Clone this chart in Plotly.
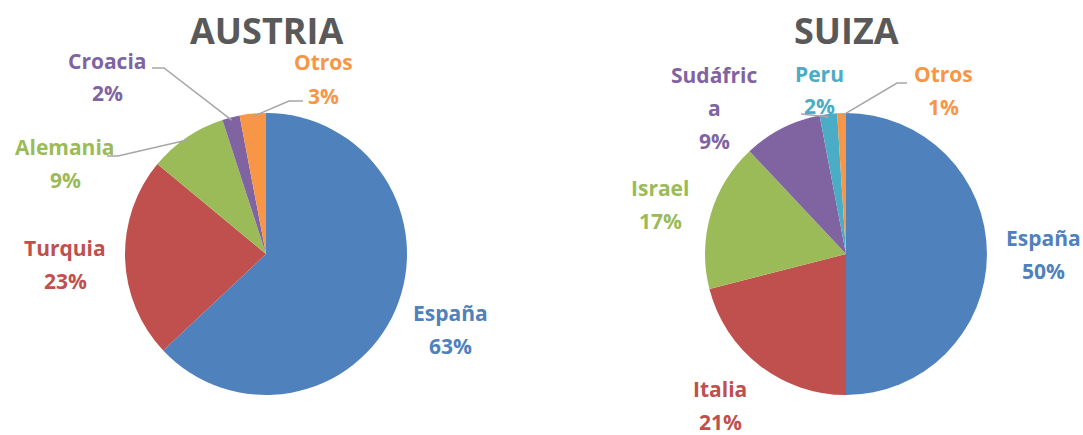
import math
import plotly.graph_objects as go

W, H = 1083, 435

# ---- data ----
austria_labels = ["España", "Turquia", "Alemania", "Croacia", "Otros"]
austria_values = [63, 23, 9, 2, 3]
suiza_labels = ["España", "Italia", "Israel", "Sudáfrica", "Peru", "Otros"]
suiza_values = [50, 21, 17, 9, 2, 1]
austria_colors = ["#4F81BD", "#C0504D", "#9BBB59", "#8064A2", "#F79646"]
suiza_colors = ["#4F81BD", "#C0504D", "#9BBB59", "#8064A2", "#4BACC6", "#F79646"]

# ---- layout constants (pixels) ----
R = 141
A_C = (266, 254)
S_C = (846, 254)
FONT = "Open Sans"
LINE_GAP = 33

def px(x):
    return x / W

def py(y):
    return 1 - y / H

def domain(c):
    return dict(x=[px(c[0] - R), px(c[0] + R)], y=[py(c[1] + R), py(c[1] - R)])

fig = go.Figure()
for name, labels, values, colors, c in [
    ("AUSTRIA", austria_labels, austria_values, austria_colors, A_C),
    ("SUIZA", suiza_labels, suiza_values, suiza_colors, S_C),
]:
    fig.add_trace(go.Pie(
        labels=labels, values=values, sort=False, direction="clockwise", rotation=0,
        marker=dict(colors=colors, line=dict(width=0)),
        textinfo="none", hoverinfo="label+percent", domain=domain(c), showlegend=False,
    ))

annotations = []
shapes = []

def title(text, cx):
    annotations.append(dict(text=f"<b>{text}</b>", x=px(cx), y=py(31), xref="paper", yref="paper",
                            xanchor="center", yanchor="middle", showarrow=False,
                            font=dict(family=FONT, size=36, color="#595959")))

def label(lines, color, cx, cy):
    n = len(lines)
    for i, t in enumerate(lines):
        yy = cy + (i - (n - 1) / 2) * LINE_GAP
        annotations.append(dict(text=f"<b>{t}</b>", x=px(cx), y=py(yy), xref="paper", yref="paper",
                                xanchor="center", yanchor="middle", showarrow=False,
                                font=dict(family=FONT, size=21, color=color)))

def edge_point(values, idx, c, f=0.98):
    tot = sum(values)
    cum = sum(values[:idx]) + values[idx] / 2
    th = 2 * math.pi * cum / tot
    return (c[0] + f * R * math.sin(th), c[1] - f * R * math.cos(th))

def leader(pts):
    path = "M " + " L ".join(f"{px(x)},{py(y)}" for x, y in pts)
    shapes.append(dict(type="path", path=path, xref="paper", yref="paper",
                       line=dict(color="#A6A6A6", width=1.5)))

# Austria
title("AUSTRIA", A_C[0])
pct_a = [f"{round(v * 100 / sum(austria_values))}%" for v in austria_values]
a_pos = [(450, 329), (65, 264), (65, 163), (107, 77), (323, 79)]
for i, lab in enumerate(austria_labels):
    label([lab, pct_a[i]], austria_colors[i], *a_pos[i])
leader([(107, 156), (118, 156), edge_point(austria_values, 2, A_C)])
leader([(152, 68), (164, 68), edge_point(austria_values, 3, A_C)])
leader([(303, 101), (289, 101), edge_point(austria_values, 4, A_C)])

# Suiza
title("SUIZA", S_C[0])
pct_s = [f"{round(v * 100 / sum(suiza_values))}%" for v in suiza_values]
s_pos = [(1043, 254), (720, 405), (660, 204), (714, 108), (819, 90), (943, 91)]
for i, lab in enumerate(suiza_labels):
    lines = [lab, pct_s[i]]
    if lab == "Sudáfrica":
        lines = ["Sudáfric", "a", pct_s[i]]
    label(lines, suiza_colors[i], *s_pos[i])
leader([(801, 114), edge_point(suiza_values, 4, S_C)])
leader([(907, 83), (897, 83), edge_point(suiza_values, 5, S_C)])

fig.update_layout(
    width=W, height=H, margin=dict(l=0, r=0, t=0, b=0),
    paper_bgcolor="white", plot_bgcolor="white",
    annotations=annotations, shapes=shapes,
)
fig.write_html("out.html", config={"displayModeBar": False},
               post_script="document.body.style.margin='0';document.body.style.overflow='hidden';")
